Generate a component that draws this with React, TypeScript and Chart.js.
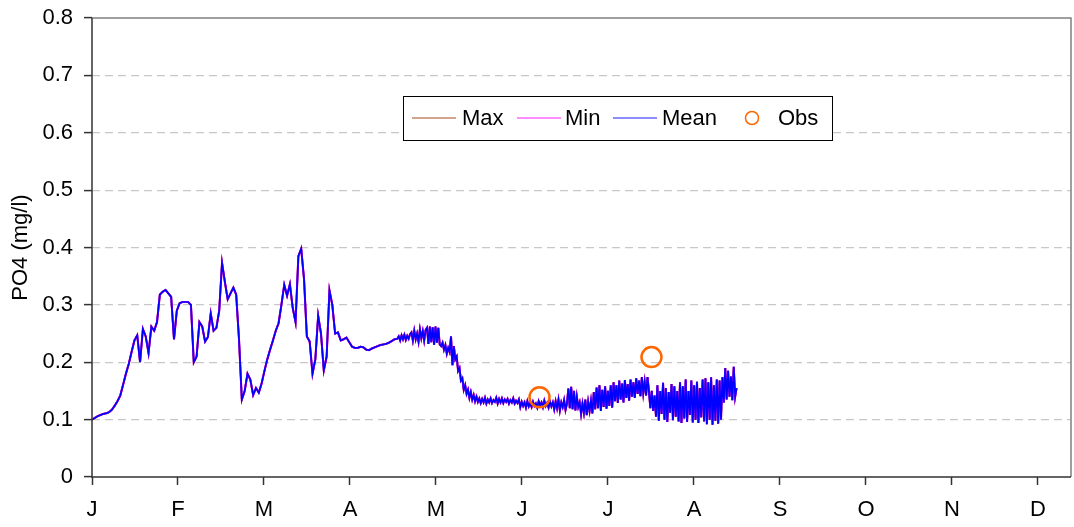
import React, { useEffect, useRef } from 'react';
import { Chart, registerables } from 'chart.js';

Chart.register(...registerables);

const FONT = '"Liberation Sans", Arial, sans-serif';

const monthLabels = ['J', 'F', 'M', 'A', 'M', 'J', 'J', 'A', 'S', 'O', 'N', 'D'];
const daysPerMonth = 30.42;
const xMaxDays = 346.3;

// Mean PO4, one value per day, days 0..108
const meanDaily = [
  0.100, 0.103, 0.106, 0.108, 0.110, 0.111, 0.113, 0.117, 0.124, 0.132,
  0.142, 0.161, 0.180, 0.197, 0.218, 0.238, 0.247, 0.200, 0.258, 0.245,
  0.216, 0.262, 0.255, 0.270, 0.318, 0.323, 0.326, 0.320, 0.314, 0.240,
  0.290, 0.303, 0.305, 0.305, 0.305, 0.300, 0.200, 0.210, 0.270, 0.262,
  0.236, 0.244, 0.285, 0.255, 0.260, 0.290, 0.373, 0.340, 0.310, 0.320,
  0.330, 0.318, 0.240, 0.135, 0.150, 0.180, 0.170, 0.143, 0.155, 0.147,
  0.163, 0.185, 0.205, 0.222, 0.238, 0.255, 0.268, 0.300, 0.335, 0.316,
  0.336, 0.295, 0.270, 0.385, 0.398, 0.345, 0.245, 0.236, 0.180, 0.205,
  0.281, 0.250, 0.186, 0.210, 0.325, 0.300, 0.250, 0.252, 0.238, 0.240,
  0.243, 0.235, 0.227, 0.225, 0.225, 0.227, 0.226, 0.222, 0.221, 0.224,
  0.226, 0.228, 0.230, 0.231, 0.232, 0.234, 0.237, 0.240, 0.241,
];

// Mean PO4, two values per day, days 108.5..228
const halfDailyStart = 108.5;
const meanHalfDaily = [
  0.245, 0.238, 0.247, 0.240, 0.248, 0.239, 0.246, 0.241, 0.249,
  0.252, 0.238, 0.255, 0.240, 0.250, 0.236, 0.257, 0.242, 0.254, 0.238, 0.256,
  0.260, 0.232, 0.262, 0.235, 0.261, 0.230, 0.262, 0.234, 0.260, 0.231,
  0.228, 0.234, 0.222, 0.230, 0.215, 0.225, 0.218,
  0.245, 0.195, 0.228, 0.205, 0.210, 0.185, 0.190, 0.168, 0.172, 0.152,
  0.160, 0.145, 0.152, 0.138, 0.148, 0.135, 0.143, 0.132, 0.140,
  0.131, 0.137, 0.129, 0.136, 0.130, 0.138, 0.128, 0.135, 0.130, 0.137,
  0.129, 0.134, 0.131, 0.138, 0.128, 0.136, 0.130, 0.137, 0.129, 0.135,
  0.131, 0.136, 0.128, 0.134, 0.130, 0.137, 0.128, 0.133, 0.129, 0.135,
  0.122, 0.131, 0.124, 0.130, 0.121, 0.132, 0.123, 0.129, 0.122, 0.131,
  0.124, 0.128, 0.121, 0.132, 0.125, 0.130, 0.122, 0.133, 0.124, 0.129,
  0.121, 0.131, 0.123, 0.130,
  0.118, 0.132, 0.120, 0.135, 0.116, 0.130, 0.122, 0.134, 0.117, 0.128,
  0.154, 0.120, 0.157, 0.118, 0.150, 0.116, 0.140, 0.122,
  0.130, 0.110, 0.128, 0.112, 0.135, 0.108, 0.131, 0.115, 0.133, 0.111,
  0.148, 0.118, 0.156, 0.120, 0.160, 0.115, 0.152, 0.122, 0.158, 0.119,
  0.150, 0.124, 0.160, 0.121,
  0.165, 0.132, 0.160, 0.129, 0.168, 0.135, 0.163, 0.130, 0.169, 0.138,
  0.162, 0.133,
  0.170, 0.140, 0.165, 0.138, 0.172, 0.145, 0.168, 0.141, 0.174, 0.146,
  0.166, 0.142, 0.174, 0.150,
  0.120, 0.150, 0.115, 0.142,
  0.105, 0.160, 0.098, 0.150, 0.110, 0.164, 0.100, 0.155, 0.096, 0.148,
  0.112, 0.162, 0.099, 0.158, 0.105, 0.150, 0.097,
  0.165, 0.094, 0.158, 0.102, 0.170, 0.096, 0.150, 0.108, 0.168, 0.095,
  0.160, 0.100, 0.166, 0.094, 0.155, 0.104, 0.170, 0.097,
  0.172, 0.092, 0.165, 0.100, 0.174, 0.091, 0.160, 0.098, 0.170, 0.093,
  0.168, 0.100, 0.174,
  0.130, 0.190, 0.135, 0.185, 0.140, 0.175, 0.134, 0.192, 0.140, 0.155,
];

// Max and Min coincide with the mean at this scale
const maxDaily = meanDaily;
const maxHalfDaily = meanHalfDaily;
const minDaily = meanDaily;
const minHalfDaily = meanHalfDaily;

const obsDays = [158.3, 197.9];
const obsValues = [0.139, 0.209];

const seriesColors = { max: '#993300', min: '#FF00FF', mean: '#0000FF', obs: '#FF6600' };

function toPoints(daily: number[], halfDaily: number[]) {
  const pts: { x: number; y: number }[] = [];
  daily.forEach((v, i) => pts.push({ x: i, y: v }));
  halfDaily.forEach((v, i) => pts.push({ x: halfDailyStart + 0.5 * i, y: v }));
  return pts;
}

const frameAndLegend = {
  id: 'frameAndLegend',
  afterDraw(chart: any) {
    const { ctx, chartArea } = chart;
    const { left, right, top, bottom } = chartArea;
    ctx.save();
    ctx.strokeStyle = '#808080';
    ctx.lineWidth = 1.5;
    ctx.beginPath();
    ctx.moveTo(left, top);
    ctx.lineTo(right, top);
    ctx.lineTo(right, bottom);
    ctx.stroke();
    ctx.strokeStyle = '#333333';
    ctx.lineWidth = 1.5;
    ctx.beginPath();
    ctx.moveTo(left, top);
    ctx.lineTo(left, bottom);
    ctx.lineTo(right, bottom);
    ctx.stroke();

    // legend
    const bx = left + 311;
    const by = top + 78;
    const bw = 429;
    const bh = 44;
    ctx.fillStyle = '#FFFFFF';
    ctx.fillRect(bx, by, bw, bh);
    ctx.strokeStyle = '#000000';
    ctx.lineWidth = 1;
    ctx.strokeRect(bx + 0.5, by + 0.5, bw, bh);
    const cy = by + 22;
    const items = [
      { label: 'Max', color: seriesColors.max, lx: 9, tx: 59 },
      { label: 'Min', color: seriesColors.min, lx: 114, tx: 162 },
      { label: 'Mean', color: seriesColors.mean, lx: 210, tx: 259 },
    ];
    ctx.font = `22px ${FONT}`;
    ctx.textBaseline = 'middle';
    ctx.textAlign = 'left';
    items.forEach((it) => {
      ctx.strokeStyle = it.color;
      ctx.globalAlpha = 0.6;
      ctx.lineWidth = 1.5;
      ctx.beginPath();
      ctx.moveTo(bx + it.lx, cy);
      ctx.lineTo(bx + it.lx + 44, cy);
      ctx.stroke();
      ctx.globalAlpha = 1;
      ctx.fillStyle = '#000000';
      ctx.fillText(it.label, bx + it.tx, cy + 1);
    });
    ctx.strokeStyle = seriesColors.obs;
    ctx.lineWidth = 1.5;
    ctx.beginPath();
    ctx.arc(bx + 349, cy, 6.5, 0, Math.PI * 2);
    ctx.stroke();
    ctx.fillStyle = '#000000';
    ctx.fillText('Obs', bx + 375, cy + 1);
    ctx.restore();
  },
};

export default function App() {
  const canvasRef = useRef<HTMLCanvasElement | null>(null);

  useEffect(() => {
    if (!canvasRef.current) return;
    const chart = new Chart(canvasRef.current, {
      type: 'line',
      data: {
        datasets: [
          {
            label: 'Max',
            data: toPoints(maxDaily, maxHalfDaily),
            borderColor: seriesColors.max,
            borderWidth: 2,
            pointRadius: 0,
            tension: 0,
            fill: false,
            order: 3,
          },
          {
            label: 'Min',
            data: toPoints(minDaily, minHalfDaily),
            borderColor: seriesColors.min,
            borderWidth: 2,
            pointRadius: 0,
            tension: 0,
            fill: false,
            order: 2,
          },
          {
            label: 'Mean',
            data: toPoints(meanDaily, meanHalfDaily),
            borderColor: seriesColors.mean,
            borderWidth: 1.7,
            pointRadius: 0,
            tension: 0,
            fill: false,
            order: 1,
          },
          {
            type: 'scatter',
            label: 'Obs',
            data: obsDays.map((d, i) => ({ x: d, y: obsValues[i] })),
            borderColor: seriesColors.obs,
            backgroundColor: 'rgba(0,0,0,0)',
            borderWidth: 2.5,
            pointRadius: 10,
            pointStyle: 'circle',
            showLine: false,
            order: 0,
          } as any,
        ],
      },
      options: {
        animation: false,
        responsive: true,
        maintainAspectRatio: false,
        layout: { autoPadding: false, padding: { top: 18, right: 3, left: 0, bottom: 0 } },
        plugins: { legend: { display: false }, tooltip: { enabled: false } },
        scales: {
          x: {
            type: 'linear',
            min: 0,
            max: xMaxDays,
            afterBuildTicks: (scale: any) => {
              scale.ticks = monthLabels.map((_, i) => ({ value: i * daysPerMonth }));
            },
            afterFit: (scale: any) => {
              scale.height = 50;
              scale.paddingLeft = 0;
              scale.paddingRight = 0;
            },
            ticks: {
              callback: (_v: any, i: number) => monthLabels[i],
              font: { family: FONT, size: 22 },
              color: '#000000',
              padding: 12,
              maxRotation: 0,
              autoSkip: false,
            },
            grid: {
              drawOnChartArea: false,
              drawTicks: true,
              tickLength: 8,
              tickColor: '#333333',
              tickWidth: 1.5,
            },
            border: { display: false },
          },
          y: {
            type: 'linear',
            min: 0,
            max: 0.8,
            afterFit: (scale: any) => {
              scale.width = 92;
              scale.paddingTop = 0;
              scale.paddingBottom = 0;
            },
            ticks: {
              stepSize: 0.1,
              callback: (v: any) => (Math.abs(v) < 1e-9 ? '0' : Number(v).toFixed(1)),
              font: { family: FONT, size: 22 },
              color: '#000000',
              padding: 11,
            },
            grid: {
              color: (ctx: any) => {
                const v = ctx.tick ? ctx.tick.value : 0;
                return v > 0.001 && v < 0.79 ? '#C8C8C8' : 'rgba(0,0,0,0)';
              },
              lineWidth: 1.2,
              tickLength: 8,
              tickColor: '#333333',
              tickWidth: 1.5,
            },
            border: { display: false, dash: [8, 5] },
            title: {
              display: true,
              text: 'PO4 (mg/l)',
              font: { family: FONT, size: 22 },
              color: '#000000',
              padding: { top: 8, bottom: 0 },
            },
          },
        },
      },
      plugins: [frameAndLegend],
    });
    return () => chart.destroy();
  }, []);

  return (
    <div style={{ position: 'fixed', left: 0, top: 0, width: 1074, height: 527, background: '#FFFFFF' }}>
      <canvas ref={canvasRef} />
    </div>
  );
}
